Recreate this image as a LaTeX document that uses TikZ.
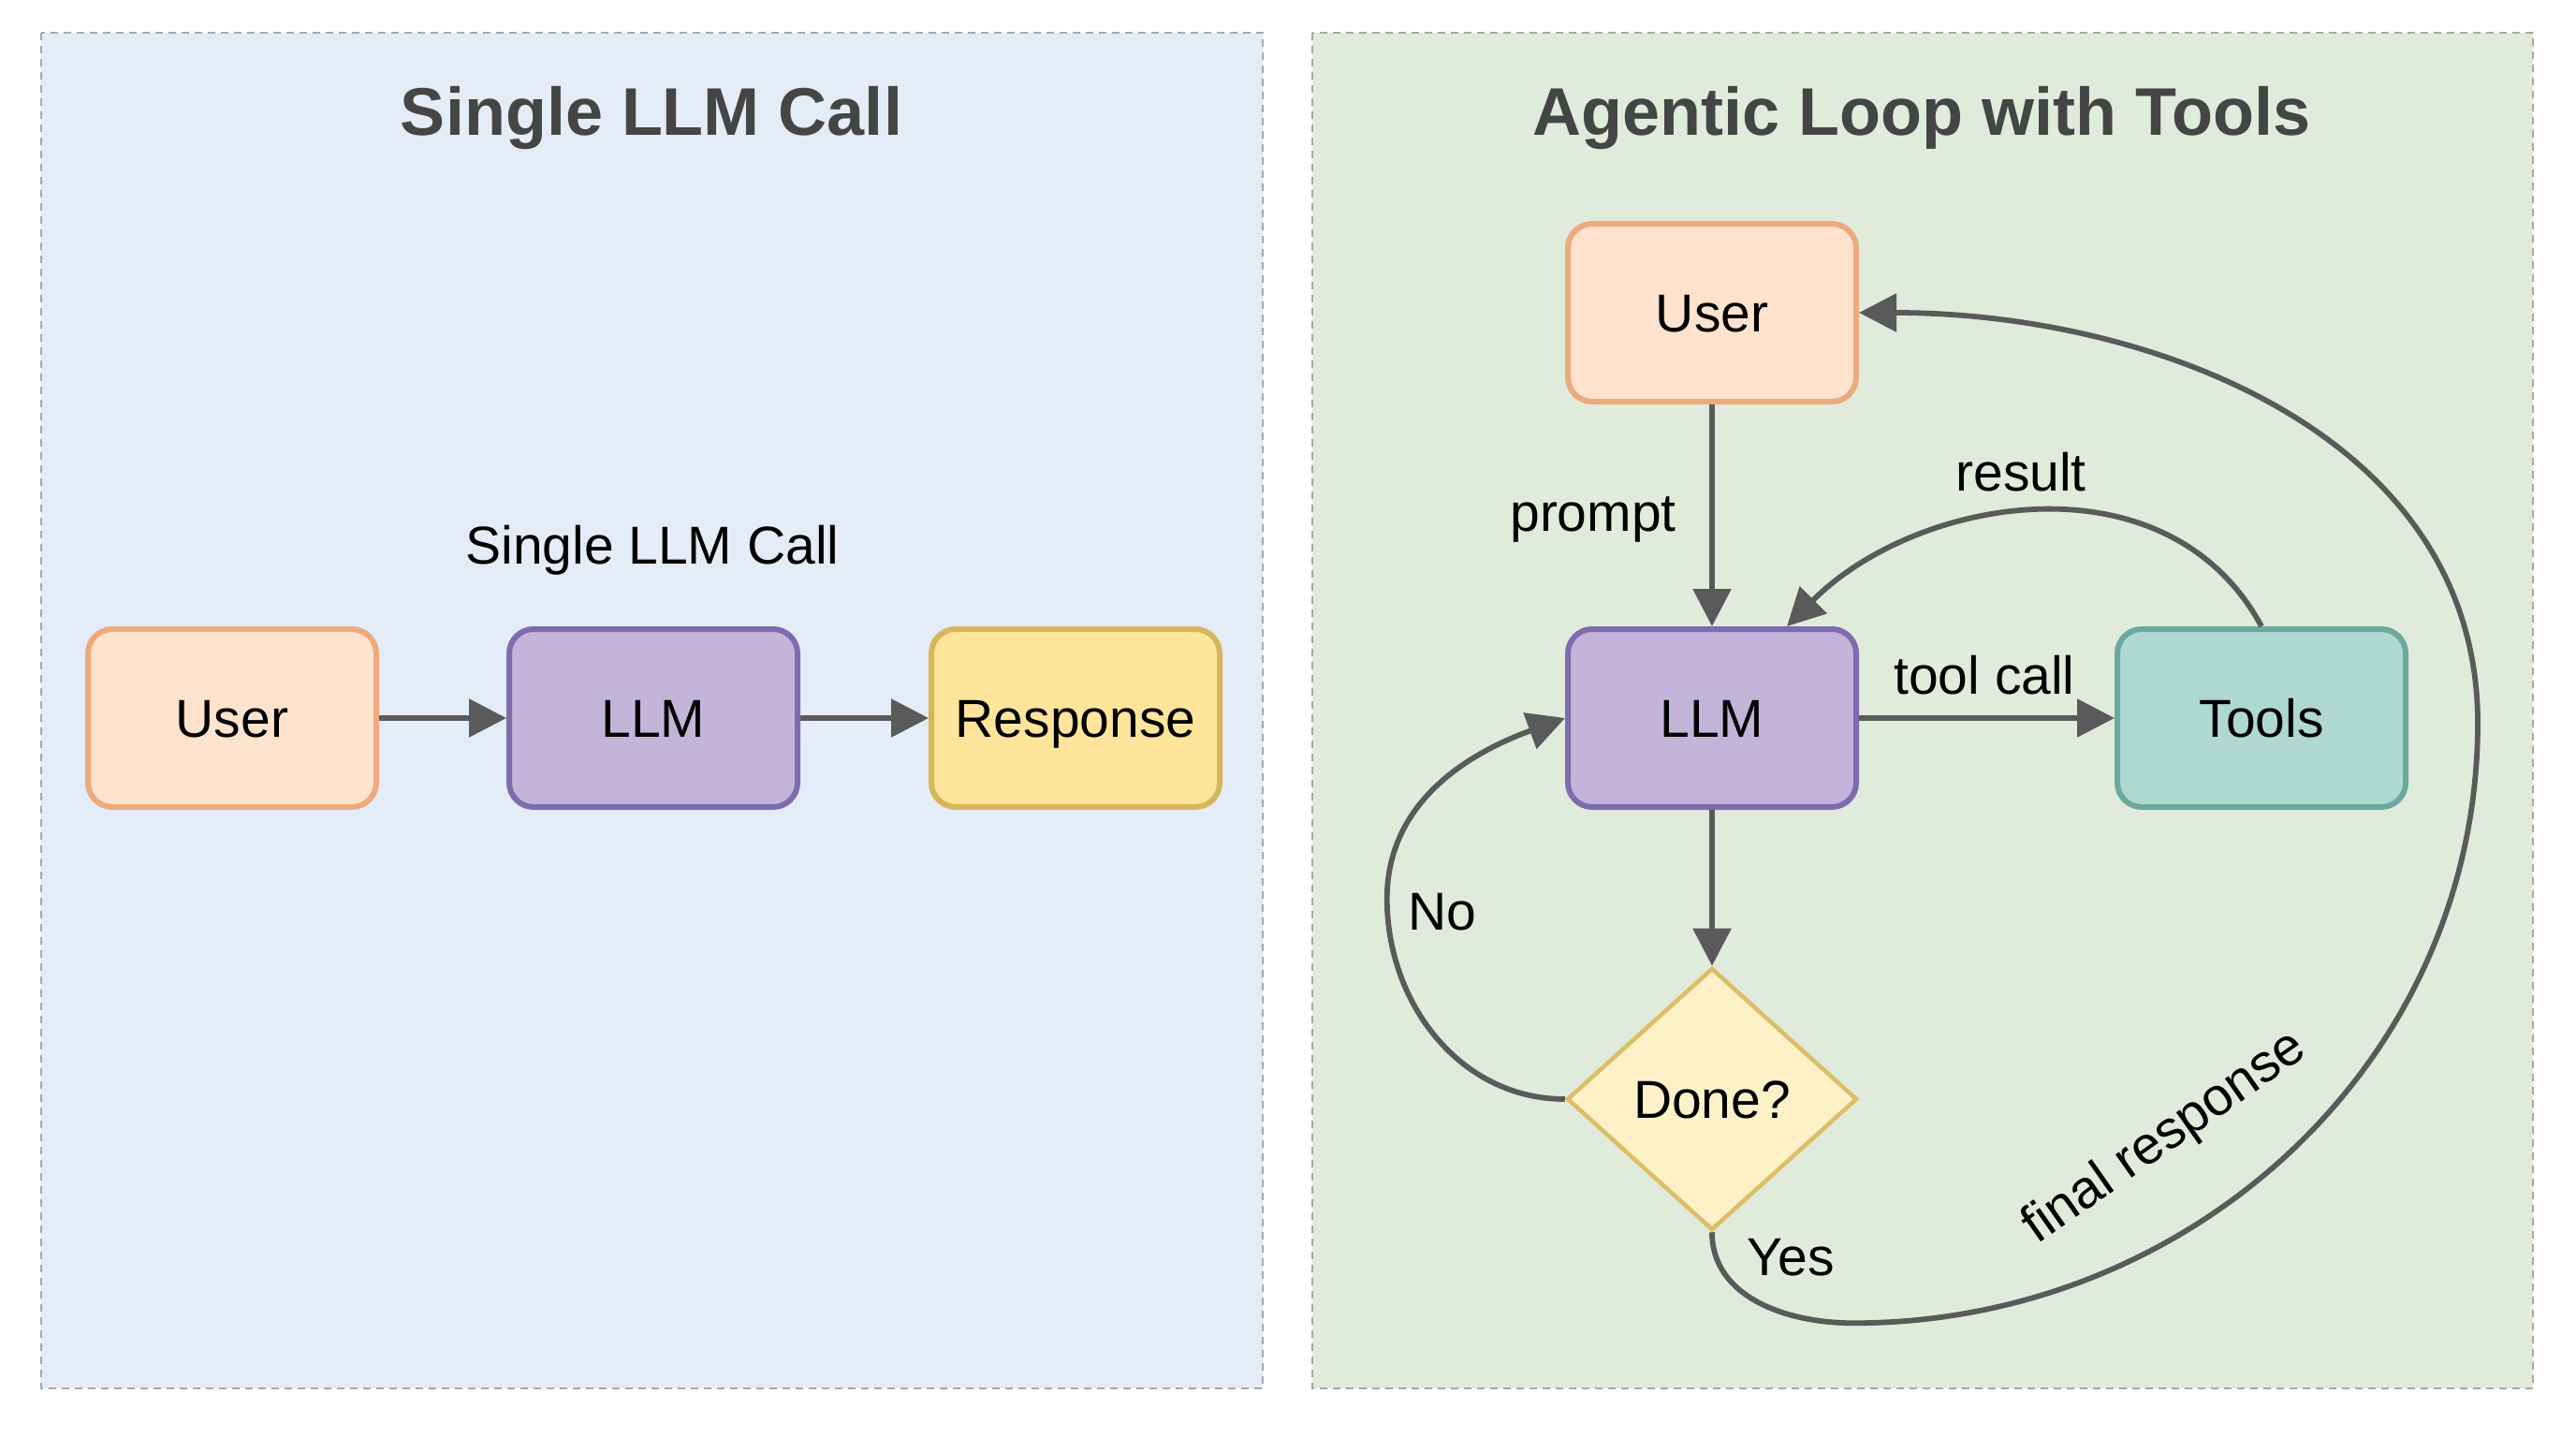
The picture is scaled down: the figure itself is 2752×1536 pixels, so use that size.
\documentclass[tikz,border=0pt]{standalone}
\usepackage{fontspec}
\setmainfont{Liberation Sans}
\usetikzlibrary{shapes.geometric,arrows.meta,calc}
\definecolor{bluebg}{HTML}{E4ECF7}
\definecolor{greenbg}{HTML}{E1EBDB}
\definecolor{panelline}{HTML}{A8A8A8}
\definecolor{titlec}{HTML}{454545}
\definecolor{arrowc}{HTML}{5A5A5A}
\definecolor{userfill}{HTML}{FDE3CD}
\definecolor{userdraw}{HTML}{EDAA7D}
\definecolor{llmfill}{HTML}{C3B4DA}
\definecolor{llmdraw}{HTML}{7F6BAE}
\definecolor{respfill}{HTML}{FEE59B}
\definecolor{respdraw}{HTML}{D6B65A}
\definecolor{toolfill}{HTML}{AFD8D0}
\definecolor{tooldraw}{HTML}{6BA99F}
\definecolor{donefill}{HTML}{FEF1C8}
\definecolor{donedraw}{HTML}{DDBE66}
\begin{document}
\begin{tikzpicture}[x=0.5pt,y=0.5pt,
  panel/.style={draw=panelline, line width=1pt, dash pattern=on 4pt off 3pt},
  ttl/.style={font=\fontsize{36}{40}\selectfont\bfseries, text=titlec, inner sep=0pt},
  box/.style={rounded corners=13pt, line width=3pt, minimum width=154pt, minimum height=95pt, inner sep=0pt, font=\fontsize{28.5}{32}\selectfont, text=black, text height=20.4pt, text depth=0pt},
  dia/.style={diamond, aspect=1.1, minimum width=155pt, minimum height=140pt, inner sep=0pt, line width=2.25pt, font=\fontsize{28.5}{32}\selectfont, text=black, text height=20.4pt, text depth=0pt},
  lbl/.style={font=\fontsize{28.5}{32}\selectfont, text=black, inner sep=0pt},
  conn/.style={draw=arrowc, line width=2.9pt, -{Triangle[length=20pt,width=20pt]}}]
\fill[white] (0,0) rectangle (2752,-1536);
\useasboundingbox (0,0) rectangle (2752,-1536);
% panels
\draw[panel, fill=bluebg] (44,-35) rectangle (1349,-1483);
\draw[panel, fill=greenbg] (1402,-35) rectangle (2706,-1483);
\node[ttl] (title1) at (696,-126) {Single LLM Call};
\node[ttl] (title2) at (2053,-126) {Agentic Loop with Tools};
% left panel
\node[lbl] (sub1) at (697,-588) {Single LLM Call};
\node[box, fill=userfill, draw=userdraw] (u1) at (248,-767) {User};
\node[box, fill=llmfill, draw=llmdraw] (l1) at (698,-767) {LLM};
\node[box, fill=respfill, draw=respdraw] (r1) at (1149,-767) {Response};
\draw[conn] (u1) -- (l1);
\draw[conn] (l1) -- (r1);
% right panel
\node[box, fill=userfill, draw=userdraw] (u2) at (1829,-334) {User};
\node[box, fill=llmfill, draw=llmdraw] (l2) at (1829,-767) {LLM};
\node[box, fill=toolfill, draw=tooldraw] (t2) at (2416,-767) {Tools};
\node[dia, fill=donefill, draw=donedraw] (d2) at (1829,-1174) {Done?};
\draw[conn] (u2) -- (l2);
\draw[conn] (l2) -- (t2);
\draw[conn] (l2) -- (d2);
\draw[conn] (t2.north) .. controls +(-100,185) and +(140,140) .. ($(l2.north)+(80,0)$);
\draw[conn] (d2.west) to[out=180,in=-90] ($(d2.west)+(-190,214)$) to[out=90,in=200] (l2.west);
\draw[conn] (d2.south) to[out=-90,in=180] ($(d2.south)+(151,-97)$) to[out=0,in=-90] ($(d2.south)+(818,544)$) to[out=90,in=0] (u2.east);
% labels
\node[lbl] (lprompt) at (1702,-555) {prompt};
\node[lbl] (lresult) at (2159,-504) {result};
\node[lbl] (ltool) at (2120,-721) {tool call};
\node[lbl] (lno) at (1541,-974) {No};
\node[lbl] (lyes) at (1913,-1343) {Yes};
\node[lbl, rotate=35] (lfinal) at (2313,-1216) {final response};
\end{tikzpicture}
\end{document}
